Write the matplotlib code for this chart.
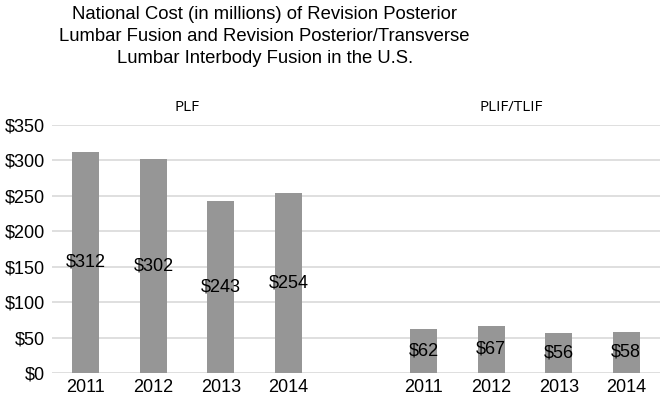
import numpy as np
import matplotlib
matplotlib.use('Agg')
import matplotlib.pyplot as plt

years = ['2011', '2012', '2013', '2014']
plf = [312, 302, 243, 254]
plif = [62, 67, 56, 58]
groups = ['PLF', 'PLIF/TLIF']
yticks = [0, 50, 100, 150, 200, 250, 300, 350]

plt.rcParams['font.family'] = ['Liberation Sans', 'DejaVu Sans']

fig = plt.figure(figsize=(6.6, 4), dpi=100)
ax = fig.add_axes([0.079, 0.0675, 0.921, 0.62])

xpos = [0, 1, 2, 3, 5, 6, 7, 8]
vals = plf + plif
ax.bar(xpos, vals, width=0.4, color='#969696', zorder=2)
for x, v in zip(xpos, vals):
    ax.text(x, v / 2, f'${v}', ha='center', va='center', fontsize=13, color='black', zorder=3)

ax.set_xlim(-0.5, 8.5)
ax.set_ylim(0, 350)
ax.set_yticks(yticks)
ax.set_yticklabels([f'${t}' for t in yticks], fontsize=13)
ax.set_xticks(xpos)
ax.set_xticklabels(years + years, fontsize=13)
ax.tick_params(axis='y', length=0, pad=5)
ax.tick_params(axis='x', length=0, pad=4)
ax.grid(axis='y', color='#d9d9d9', linewidth=1.2, zorder=0)
for s in ax.spines.values():
    s.set_visible(False)

ax.text(1.5, 375, groups[0], ha='center', va='center', fontsize=11, family=['Open Sans', 'DejaVu Sans'])
ax.text(6.3, 375, groups[1], ha='center', va='center', fontsize=11, family=['Open Sans', 'DejaVu Sans'])

fig.text(0.401, 0.985, 'National Cost (in millions) of Revision Posterior\n'
         'Lumbar Fusion and Revision Posterior/Transverse\n'
         'Lumbar Interbody Fusion in the U.S.',
         ha='center', va='top', fontsize=13.3, linespacing=1.37)

fig.savefig('out.png', dpi=100)
